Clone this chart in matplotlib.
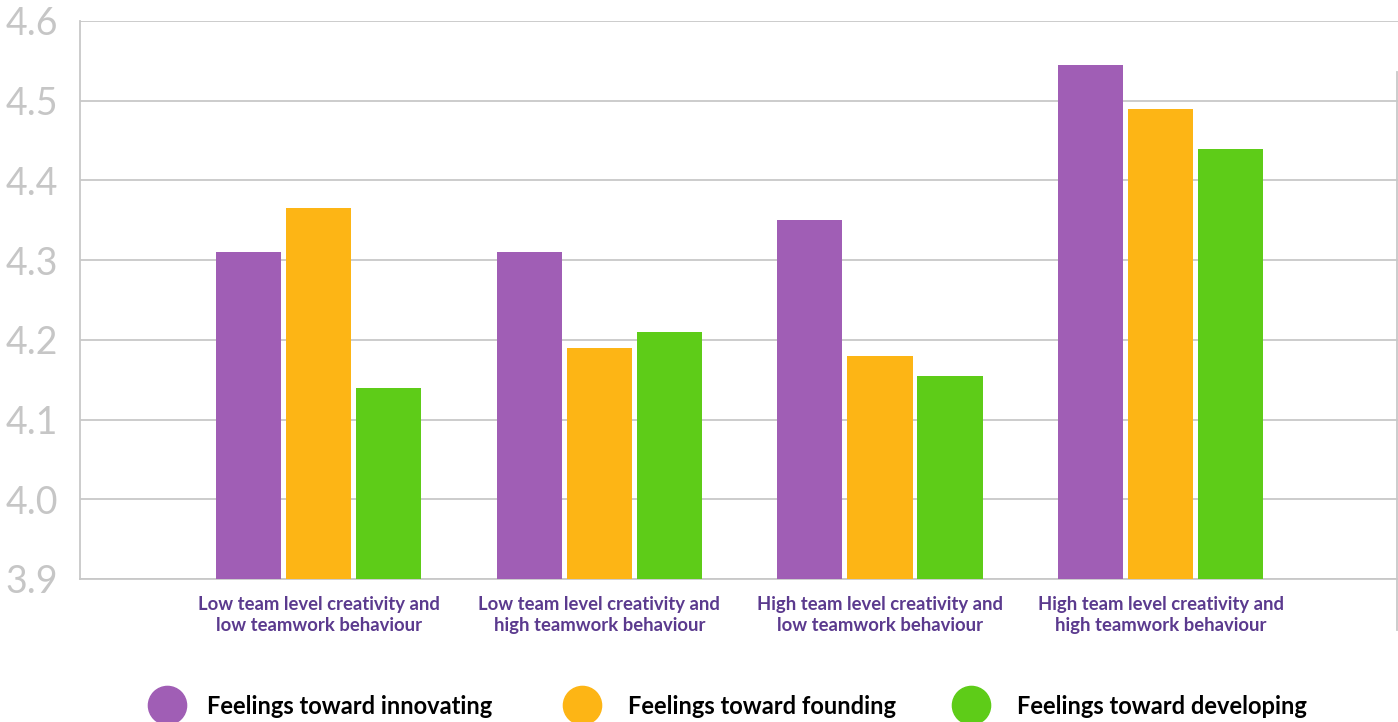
import matplotlib
matplotlib.use("Agg")
import matplotlib.pyplot as plt
from matplotlib.lines import Line2D
import numpy as np

categories = [
    "Low team level creativity and\nlow teamwork behaviour",
    "Low team level creativity and\nhigh teamwork behaviour",
    "High team level creativity and\nlow teamwork behaviour",
    "High team level creativity and\nhigh teamwork behaviour",
]
series_names = ["Feelings toward innovating", "Feelings toward founding", "Feelings toward developing"]
innovating = [4.31, 4.31, 4.35, 4.545]
founding = [4.366, 4.19, 4.18, 4.49]
developing = [4.14, 4.21, 4.155, 4.44]
yticks = [3.9, 4.0, 4.1, 4.2, 4.3, 4.4, 4.5, 4.6]

colors = ["#A05EB5", "#FDB515", "#5ECC18"]
grid_c = "#C8C8C8"

W, H = 1398, 722
fig = plt.figure(figsize=(W / 100, H / 100), dpi=100)
ax = fig.add_axes([80 / W, (H - 579) / H, 1318 / W, 558 / H])

x = np.arange(len(categories))
width = 0.2316
step = 0.2494
for i, (vals, c) in enumerate(zip([innovating, founding, developing], colors)):
    ax.bar(x + (i - 1) * step, [v - 3.9 for v in vals], width, bottom=3.9,
           color=c, zorder=3, label=series_names[i])

ax.set_ylim(3.9, 4.6)
ax.set_xlim(-0.85, -0.85 + 1318 / 280.7)
ax.set_yticks(yticks)
ax.set_yticklabels([f"{t:.1f}" for t in yticks], fontsize=27, color="#C6C6C6",
                   family="Lato", fontweight="normal")
ax.tick_params(axis="y", length=0, pad=16)
ax.yaxis.grid(True, color=grid_c, linewidth=1.3, zorder=0)
ax.set_xticks(x)
ax.set_xticklabels(categories, fontsize=13.3, fontweight="bold", color="#5B3A8E",
                   family="Lato", linespacing=1.33)
ax.tick_params(axis="x", length=0, pad=12)
for s in ["top", "right"]:
    ax.spines[s].set_visible(False)
for s in ["left", "bottom"]:
    ax.spines[s].set_color(grid_c)
    ax.spines[s].set_linewidth(1.3)

# thin vertical rule on the right edge
fig.add_artist(Line2D([1396.5 / W, 1396.5 / W], [(H - 630) / H, (H - 72) / H],
                      color=grid_c, linewidth=1.3))

# legend entries, each placed at its own left edge
legend_left = [148, 563, 952]
text_gap = [21, 27, 27]
fs = 17
px = fs * 100 / 72
for name, c, xl, gap in zip(series_names, colors, legend_left, text_gap):
    h = Line2D([], [], marker="o", linestyle="none", markersize=27.5,
               markerfacecolor=c, markeredgecolor=c)
    fig.legend([h], [name], loc="center left", bbox_to_anchor=(xl / W, (H - 706) / H),
               frameon=False, prop={"family": "Lato", "weight": "bold", "size": fs},
               borderpad=0, borderaxespad=0, handlelength=38 / px,
               handletextpad=gap / px)

fig.savefig("out.png", dpi=100)
